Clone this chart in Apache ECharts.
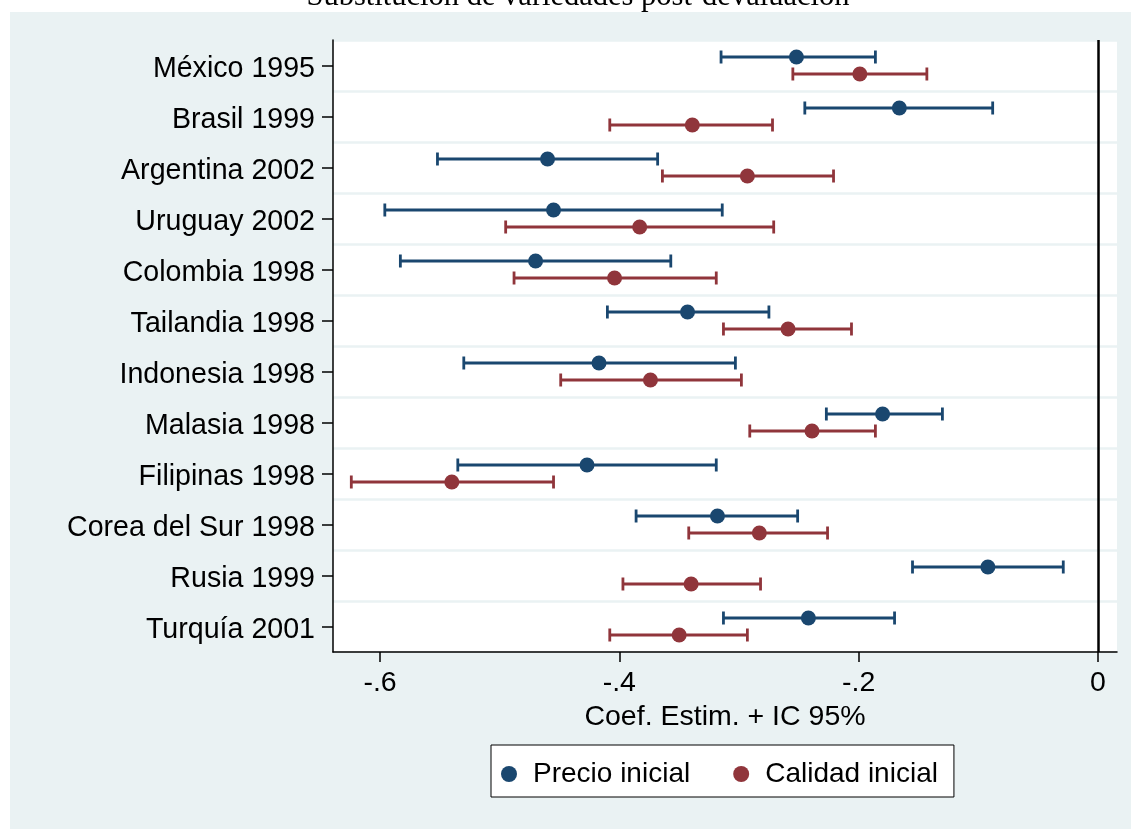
<!DOCTYPE html>
<html><head><meta charset="utf-8">
<script src="https://cdn.jsdelivr.net/npm/echarts@6/dist/echarts.min.js"></script>
<style>html,body{margin:0;padding:0;background:#fff}#c{width:1134px;height:829px}</style>
</head><body><div id="c"></div>
<script>
const categories = ['México 1995','Brasil 1999','Argentina 2002','Uruguay 2002','Colombia 1998','Tailandia 1998','Indonesia 1998','Malasia 1998','Filipinas 1998','Corea del Sur 1998','Rusia 1999','Turquía 2001'];
const precioEst = [-0.252,-0.166,-0.460,-0.455,-0.470,-0.343,-0.417,-0.180,-0.427,-0.318,-0.092,-0.242];
const precioLo  = [-0.315,-0.245,-0.552,-0.596,-0.583,-0.410,-0.530,-0.227,-0.535,-0.386,-0.155,-0.313];
const precioHi  = [-0.186,-0.088,-0.368,-0.314,-0.357,-0.275,-0.303,-0.130,-0.319,-0.251,-0.029,-0.170];
const calidadEst = [-0.199,-0.339,-0.293,-0.383,-0.404,-0.259,-0.374,-0.239,-0.540,-0.283,-0.340,-0.350];
const calidadLo  = [-0.255,-0.408,-0.364,-0.495,-0.488,-0.313,-0.449,-0.291,-0.624,-0.342,-0.397,-0.408];
const calidadHi  = [-0.143,-0.272,-0.221,-0.271,-0.319,-0.206,-0.298,-0.186,-0.455,-0.226,-0.282,-0.293];
const xTicks = [-0.6,-0.4,-0.2,0];
const xTickLabels = ['-.6','-.4','-.2','0'];
const seriesNames = ['Precio inicial','Calidad inicial'];
const title = 'Substitución de variedades post-devaluación';
const xTitle = 'Coef. Estim. + IC 95%';

const BLUE = '#1A476F', RED = '#90353B', BG = '#EAF2F3';
const FONT = '"Liberation Sans", Arial, sans-serif';

function build(est, lo, hi){ return categories.map((c,i)=>[i, est[i], lo[i], hi[i]]); }
function makeRender(color, off){
  return function(params, api){
    const ci = api.value(0);
    const pe = api.coord([api.value(1), ci]);
    const pl = api.coord([api.value(2), ci]);
    const ph = api.coord([api.value(3), ci]);
    const y = pe[1] + off;
    const ls = {stroke: color, lineWidth: 2.8};
    const cap = 6.5;
    return {type:'group', children:[
      {type:'line', shape:{x1:pl[0], y1:y, x2:ph[0], y2:y}, style:ls},
      {type:'line', shape:{x1:pl[0], y1:y-cap, x2:pl[0], y2:y+cap}, style:ls},
      {type:'line', shape:{x1:ph[0], y1:y-cap, x2:ph[0], y2:y+cap}, style:ls},
      {type:'circle', shape:{cx:pe[0], cy:y, r:7.5}, style:{fill: color}}
    ]};
  };
}

const chart = echarts.init(document.getElementById('c'), null, {renderer:'canvas'});
chart.setOption({
  animation:false,
  backgroundColor:'#fff',
  graphic:[
    {type:'rect', z:-10, silent:true, shape:{x:10, y:12, width:1121, height:817}, style:{fill:BG}},
    {type:'text', silent:true, x:578, y:-3, style:{text:title, font:'30.5px "Liberation Serif", "DejaVu Serif", serif', fill:'#000', align:'center', verticalAlign:'middle'}}
  ],
  grid:{left:333, right:17, top:40, bottom:177, show:true, backgroundColor:'#fff', borderWidth:0, containLabel:false},
  xAxis:{
    type:'value', min:-0.6393, max:0.0159,
    axisLine:{show:true, onZero:false, lineStyle:{color:'#000', width:1.5}},
    axisTick:{show:true, length:10, lineStyle:{color:'#000', width:1.5}, customValues:xTicks},
    axisLabel:{show:true, margin:17, fontFamily:FONT, fontSize:28.5, color:'#000', customValues:xTicks,
      formatter:(v)=>{const i = xTicks.findIndex(t=>Math.abs(t-v)<1e-9); return i>=0 ? xTickLabels[i] : '';}},
    splitLine:{show:false},
    name:xTitle, nameLocation:'middle', nameGap:48,
    nameTextStyle:{fontFamily:FONT, fontSize:28.5, color:'#000'}
  },
  yAxis:{
    type:'category', data:categories, inverse:true,
    axisLine:{show:true, onZero:false, lineStyle:{color:'#000', width:1.5}},
    axisTick:{show:true, alignWithLabel:true, length:11, lineStyle:{color:'#000', width:1.5}},
    axisLabel:{margin:18, fontFamily:FONT, fontSize:28.6, color:'#000', verticalAlign:'top', lineHeight:7},
    splitLine:{show:true, lineStyle:{color:BG, width:2.5}}
  },
  legend:{
    left:491, top:745, orient:'horizontal',
    backgroundColor:'#fff', borderColor:'#000', borderWidth:1, borderRadius:0,
    padding:[15,16,9,10], itemGap:43, itemWidth:16, itemHeight:16,
    textStyle:{fontFamily:FONT, fontSize:28, color:'#000', padding:[0,0,0,11]},
    data:[{name:seriesNames[0], icon:'circle'},{name:seriesNames[1], icon:'circle'}]
  },
  series:[
    {type:'custom', name:seriesNames[0], itemStyle:{color:BLUE}, renderItem:makeRender(BLUE,-8.5),
      encode:{x:[1,2,3], y:0}, data:build(precioEst, precioLo, precioHi),
      markLine:{silent:true, symbol:'none', label:{show:false}, lineStyle:{color:'#000', width:2.5, type:'solid'}, data:[{xAxis:0}]}},
    {type:'custom', name:seriesNames[1], itemStyle:{color:RED}, renderItem:makeRender(RED,8.5),
      encode:{x:[1,2,3], y:0}, data:build(calidadEst, calidadLo, calidadHi)}
  ]
});
</script></body></html>
